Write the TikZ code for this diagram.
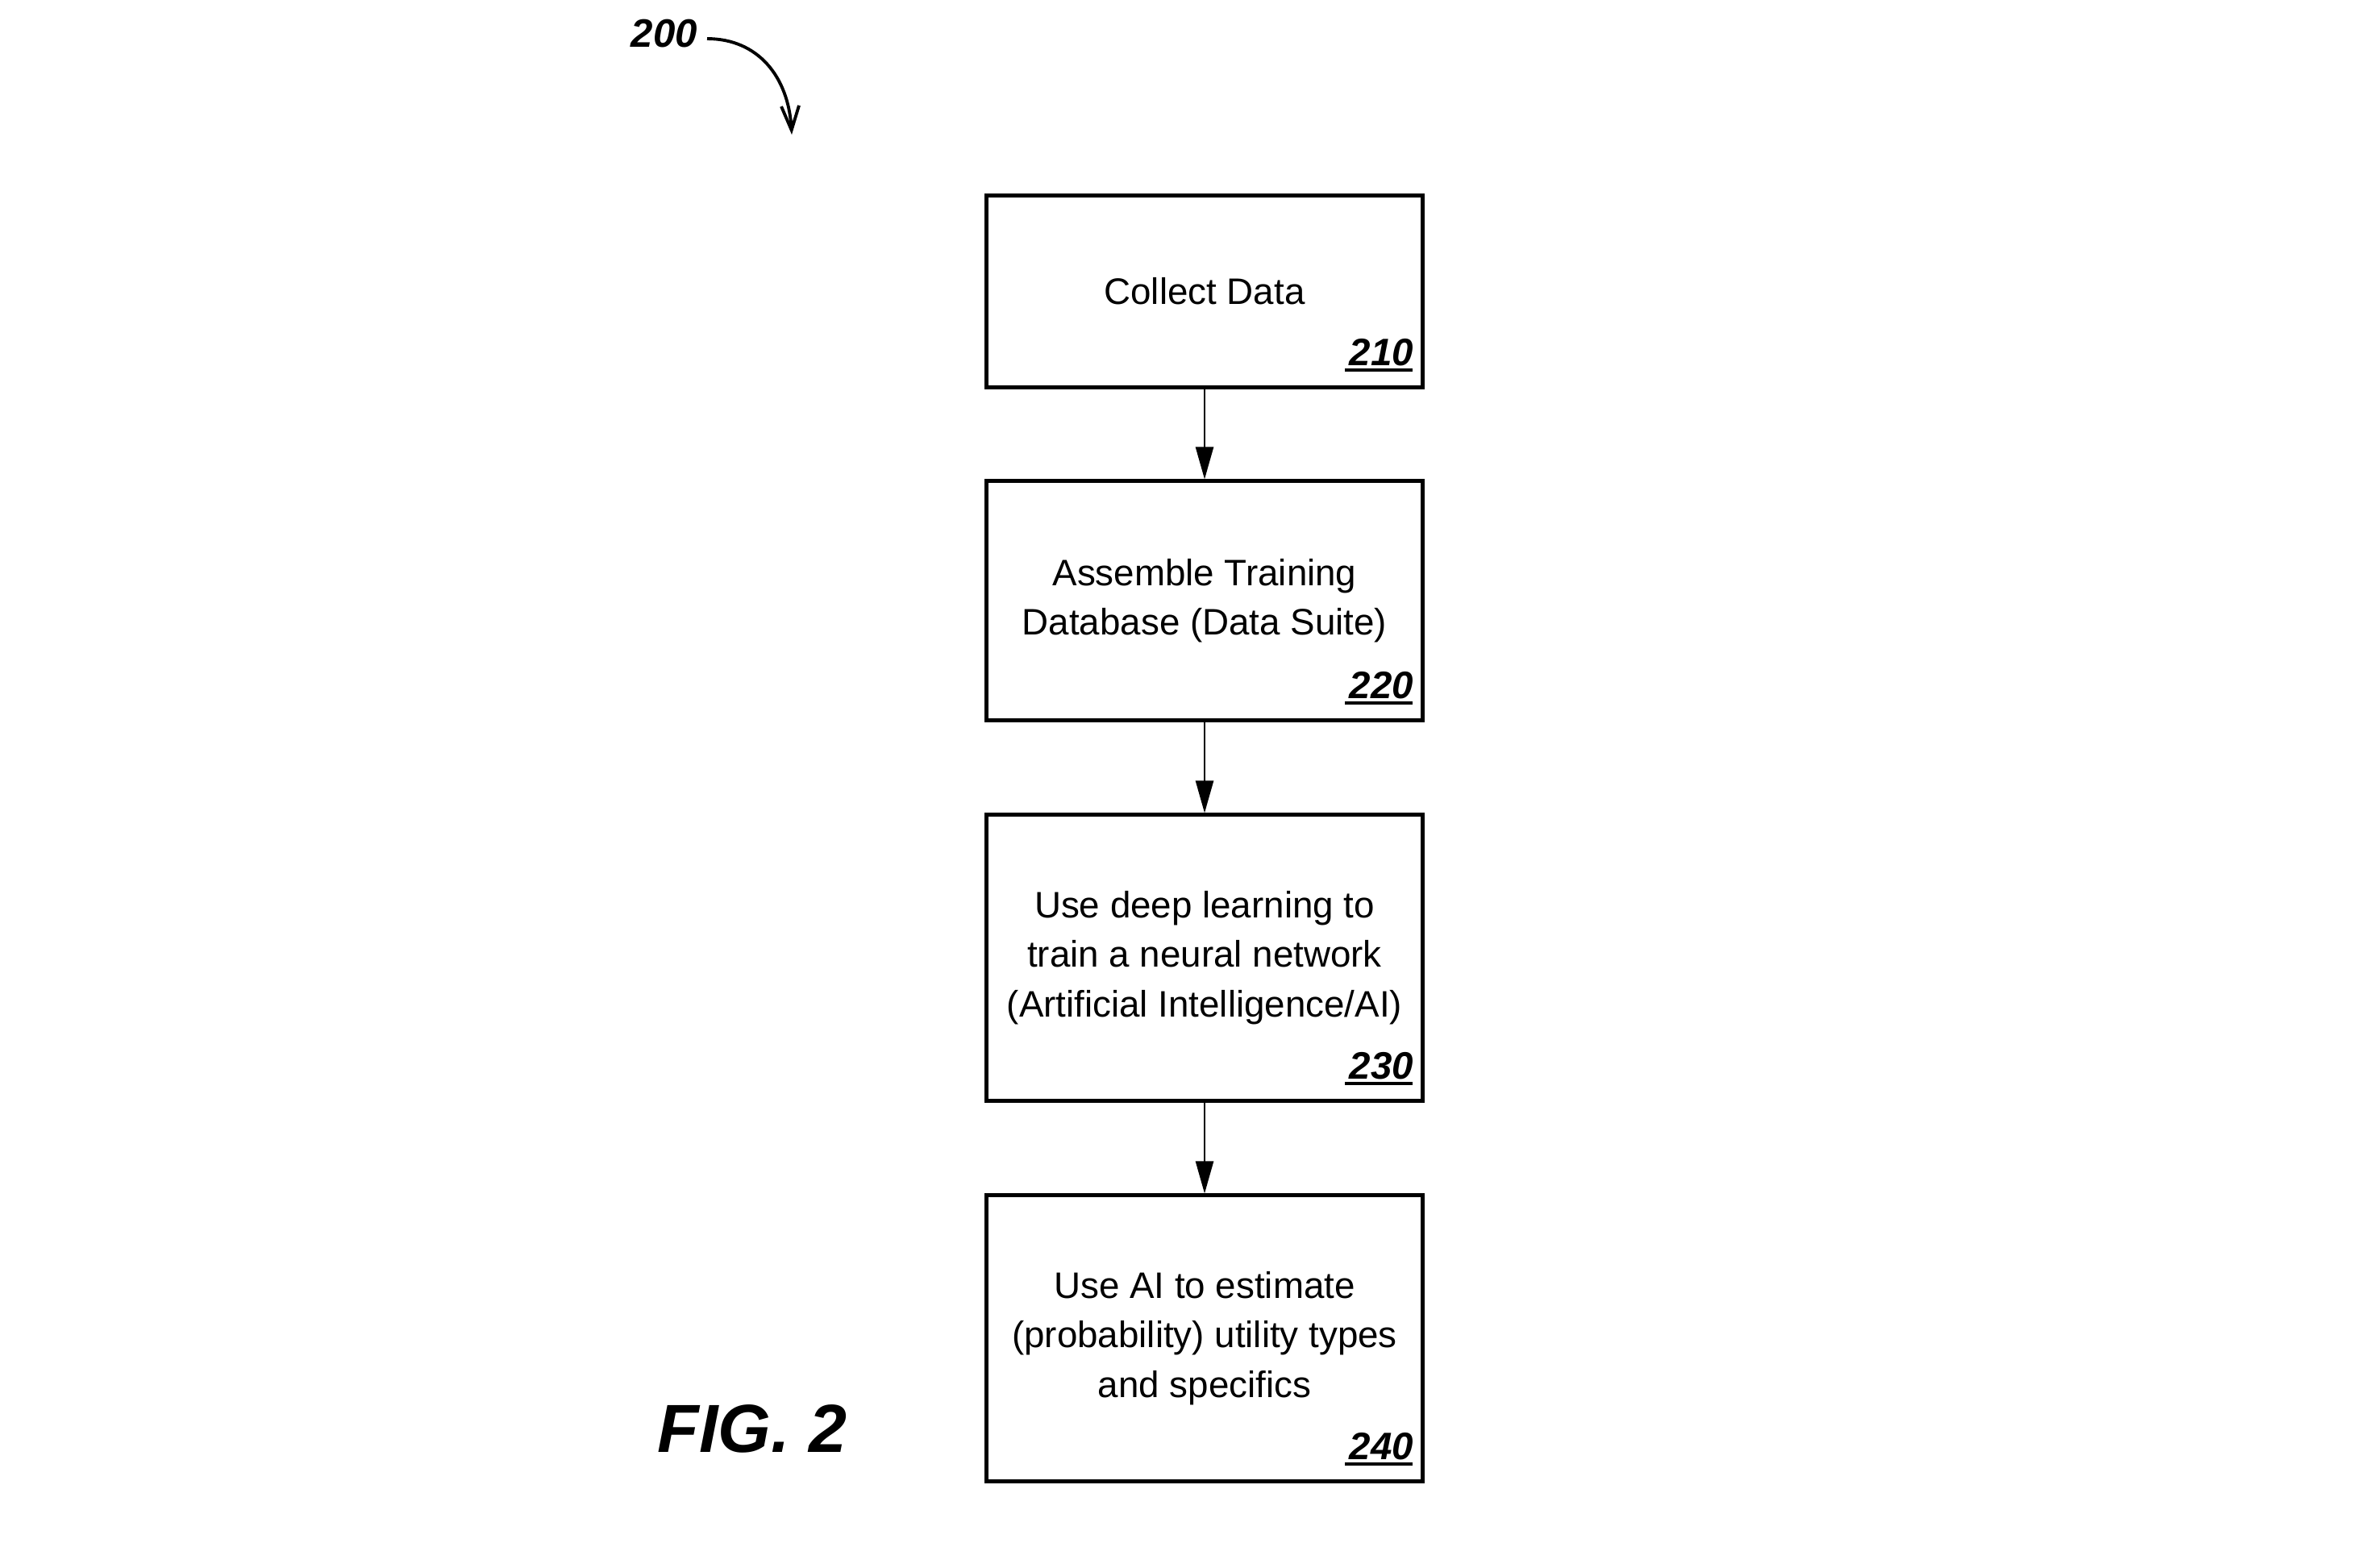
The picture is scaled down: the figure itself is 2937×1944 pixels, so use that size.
\documentclass[tikz,border=0pt]{standalone}
\usepackage{fontspec}
\setmainfont{Liberation Sans}
\usetikzlibrary{arrows.meta}
\begin{document}
\begin{tikzpicture}[x=0.01cm,y=-0.01cm,
  stepbox/.style={draw, line width=1.4pt, minimum width=5.4cm, inner sep=0pt, align=center,
    font=\fontsize{13}{17.4}\selectfont},
  reflabel/.style={font=\fontsize{13.5}{16}\selectfont\bfseries\itshape, inner sep=0pt, anchor=base east},
  refline/.style={line width=0.045cm},
  flow/.style={line width=0.7pt, -{Triangle[length=0.4cm,width=0.22cm]}}
]
\useasboundingbox (0,0) rectangle (2937,1944);
\node[stepbox, minimum height=2.37cm] (b1) at (1494,361.5) {Collect Data};
\node[stepbox, minimum height=2.96cm] (b2) at (1494,745) {Assemble Training\\Database (Data Suite)};
\node[stepbox, minimum height=3.54cm] (b3) at (1494,1188) {Use deep learning to\\train a neural network\\(Artificial Intelligence/AI)};
\node[stepbox, minimum height=3.54cm] (b4) at (1494,1660) {Use AI to estimate\\(probability) utility types\\and specifics};
\foreach \b/\n in {b1/210,b2/220,b3/230,b4/240}{
  \node[reflabel] (l\n) at ([xshift=-0.13cm,yshift=0.29cm]\b.south east) {\n};
  \draw[refline] ([xshift=-0.05cm,yshift=-0.055cm]l\n.base west) -- ([xshift=-0.02cm,yshift=-0.055cm]l\n.base east);
}
\draw[flow] (b1.south) -- (b2.north);
\draw[flow] (b2.south) -- (b3.north);
\draw[flow] (b3.south) -- (b4.north);
\node[font=\fontsize{14}{16}\selectfont\bfseries\itshape, inner sep=0pt] (t200) at (824,42) {200};
\coordinate (tip) at (982,167);
\draw[line width=1.1pt, -{Straight Barb[length=0.3cm,width=0.22cm]}] (877,48) .. controls (940,48) and (978,95) .. (tip);
\node[font=\fontsize{24}{28}\selectfont\bfseries\itshape, inner sep=0pt] (fig) at (933,1772) {FIG. 2};
\end{tikzpicture}
\end{document}
